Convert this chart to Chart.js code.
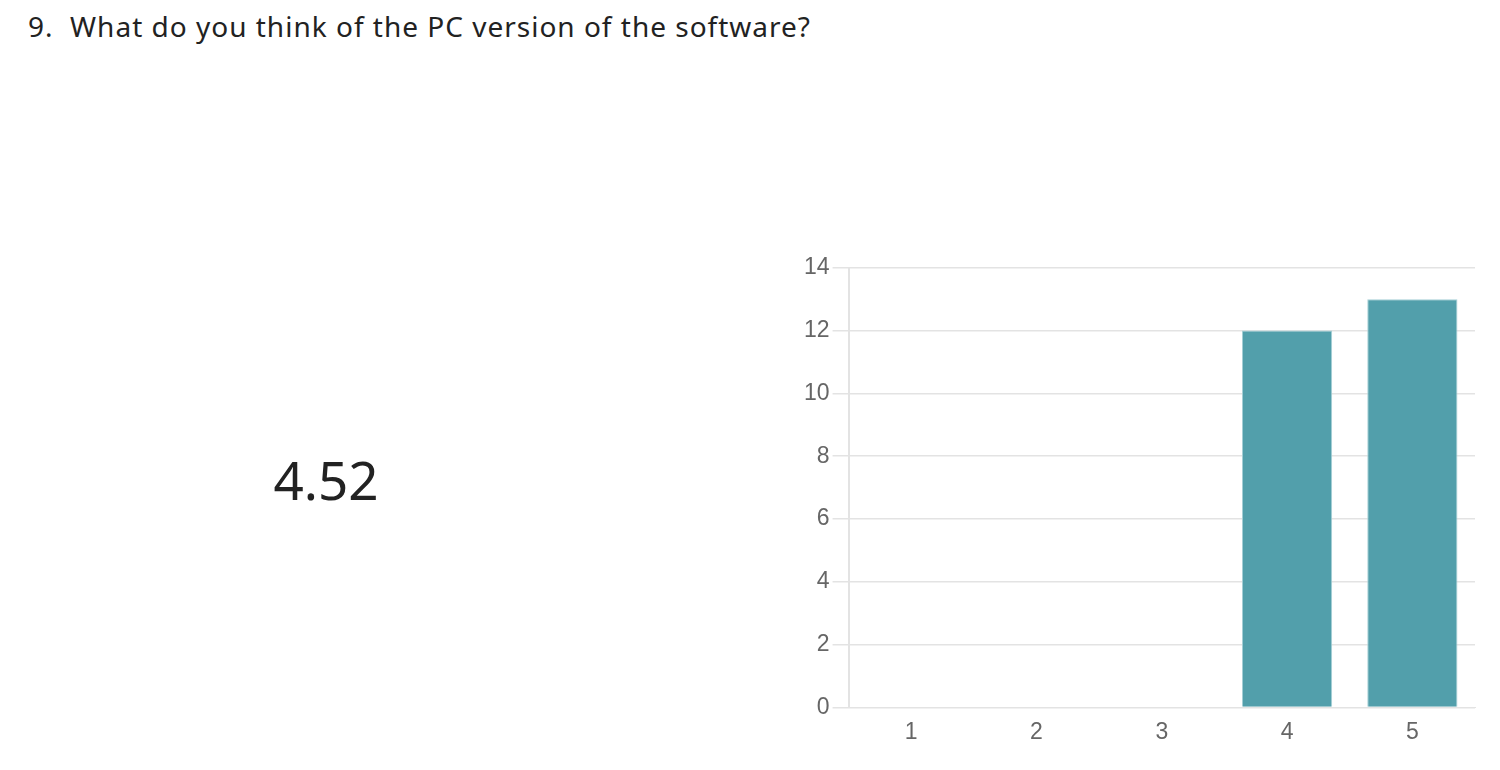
<!DOCTYPE html>
<html><head><meta charset="utf-8">
<script src="https://cdn.jsdelivr.net/npm/chart.js@4.4.0/dist/chart.umd.min.js"></script>
<style>
html,body{margin:0;padding:0;background:#fff;width:1500px;height:770px;overflow:hidden;}
#title{position:absolute;left:28px;top:7px;font-family:"Noto Sans","Open Sans",sans-serif;font-size:28px;letter-spacing:1px;color:#222;white-space:pre;}
#avg{position:absolute;left:0;width:652px;top:443px;text-align:center;font-family:"Noto Sans","Open Sans",sans-serif;font-size:53px;color:#222;}
#wrap{position:absolute;left:801px;top:251px;width:679px;height:498px;}
</style></head>
<body>
<div id="title">9.  What do you think of the PC version of the software?</div>
<div id="avg">4.52</div>
<div id="wrap"><canvas id="c"></canvas></div>
<script>
const categories = ["1","2","3","4","5"];
const counts = [0,0,0,12,13];
const yTicks = [0,2,4,6,8,10,12,14];

new Chart(document.getElementById('c'), {
  type: 'bar',
  data: { labels: categories, datasets: [{ data: counts, backgroundColor: '#529fab', borderColor: '#a6d0d6', borderWidth: 1 }] },
  options: {
    responsive: true, maintainAspectRatio: false, animation: false,
    layout: { padding: { top: 8, right: 5, bottom: 0, left: 0 } },
    plugins: { legend: { display: false }, tooltip: { enabled: false } },
    scales: {
      x: {
        grid: { display: false },
        border: { display: true, color: '#e3e3e3' },
        ticks: { color: '#666', font: { family: 'Liberation Sans, Arial, sans-serif', size: 23 }, padding: 3 }
      },
      y: {
        min: 0, max: 14,
        afterBuildTicks: (s) => { s.ticks = yTicks.map(v => ({ value: v })); },
        grid: { color: '#e3e3e3', tickLength: 16, lineWidth: 1.5 },
        border: { display: true, color: '#e3e3e3', width: 2 },
        ticks: { color: '#666', font: { family: 'Liberation Sans, Arial, sans-serif', size: 23 }, padding: 3 }
      }
    }
  }
});
</script>
</body></html>
